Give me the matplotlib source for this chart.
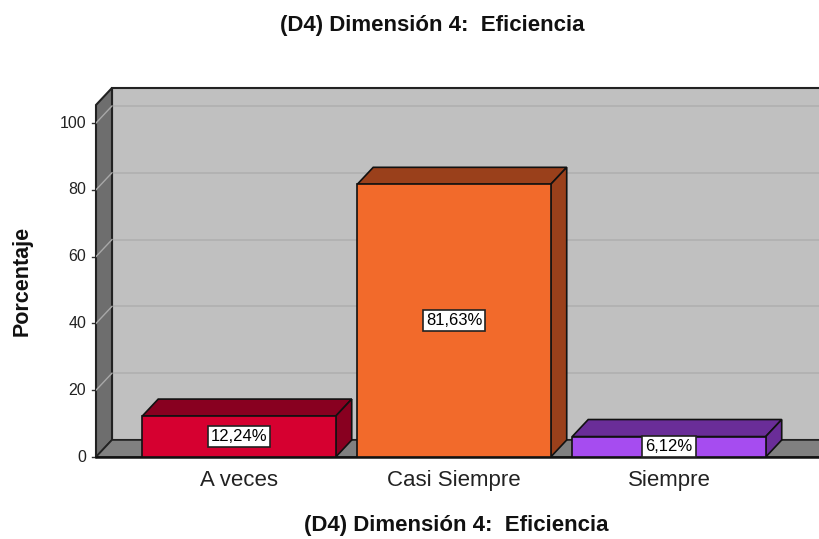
import matplotlib.pyplot as plt
from matplotlib.patches import Polygon, Rectangle

plt.rcParams['font.family'] = ['Liberation Sans', 'DejaVu Sans']

categories = ["A veces", "Casi Siempre", "Siempre"]
percentages = [12.24, 81.63, 6.12]
labels = ["12,24%", "81,63%", "6,12%"]
y_ticks = [0, 20, 40, 60, 80, 100]

front_colors = ["#d60030", "#f26a2b", "#a64cf0"]
shade_colors = ["#880020", "#9a401b", "#6a2d98"]

title = "(D4) Dimensión 4:  Eficiencia"

# 3D look: depth offset (data units)
dx, dy = 0.0744, 5.1
x0, x1 = -0.665, 2.75
wall_h = 105.4
bar_w = 0.9

fig = plt.figure(figsize=(8.19, 5.39), dpi=100)
ax = fig.add_axes([96 / 819, (539 - 457) / 539, (819 - 96) / 819, 374 / 539])
ax.set_xlim(x0, x0 + (819 - 96) / 215)
ax.set_ylim(0, 374 / 3.34)
ax.axis("off")

# back wall
ax.add_patch(Rectangle((x0 + dx, dy), x1 - x0, wall_h, facecolor="#c0c0c0",
                       edgecolor="#222222", lw=1.5, clip_on=False, zorder=1))
for v in y_ticks[1:]:
    ax.plot([x0 + dx, x1 + dx], [v + dy, v + dy], color="#b0b0b0", lw=1.2, zorder=2)

# left wall
ax.add_patch(Polygon([(x0, 0), (x0, wall_h), (x0 + dx, wall_h + dy), (x0 + dx, dy)],
                     closed=True, facecolor="#6e6e6e", edgecolor="#222222", lw=1.5,
                     clip_on=False, zorder=3))
for v in y_ticks[1:]:
    ax.plot([x0, x0 + dx], [v, v + dy], color="#a8a8a8", lw=1.0, zorder=4)

# floor
ax.add_patch(Polygon([(x0, 0), (x1, 0), (x1 + dx, dy), (x0 + dx, dy)],
                     closed=True, facecolor="#808080", edgecolor="#222222", lw=1.2,
                     clip_on=False, zorder=3))
ax.plot([x0, x1], [0, 0], color="#111111", lw=1.8, zorder=5, clip_on=False)

# y ticks
for v in y_ticks:
    ax.plot([x0 - 0.02, x0], [v, v], color="#333333", lw=1, clip_on=False)
    ax.text(x0 - 0.045, v, str(v), ha="right", va="center", fontsize=11.5, color="#222222")

# bars
for i, (val, fc, sc, lab) in enumerate(zip(percentages, front_colors, shade_colors, labels)):
    l, r = i - bar_w / 2, i + bar_w / 2
    ax.add_patch(Polygon([(l, val), (l + dx, val + dy), (r + dx, val + dy), (r, val)],
                         closed=True, facecolor=sc, edgecolor="#111111", lw=1.2, zorder=6))
    ax.add_patch(Polygon([(r, 0), (r, val), (r + dx, val + dy), (r + dx, dy)],
                         closed=True, facecolor=sc, edgecolor="#111111", lw=1.2, zorder=6))
    ax.add_patch(Rectangle((l, 0), bar_w, val, facecolor=fc, edgecolor="#111111",
                           lw=1.2, zorder=7))
    ax.text(i, val / 2, lab, ha="center", va="center", fontsize=12, zorder=8,
            bbox=dict(boxstyle="square,pad=0.18", facecolor="white", edgecolor="#222222", lw=1.2))
    ax.text(i, -7, categories[i], ha="center", va="center", fontsize=16, color="#222222")

fig.text(432 / 819, 1 - 25 / 539, title, ha="center", va="center", fontsize=16,
         fontweight="bold", color="#111111")
fig.text(456 / 819, 1 - 525 / 539, title, ha="center", va="center", fontsize=16,
         fontweight="bold", color="#111111")
fig.text(22 / 819, 1 - 281 / 539, "Porcentaje", ha="center", va="center", fontsize=15.5,
         fontweight="bold", rotation=90, color="#111111")

fig.savefig("out.png", dpi=100)
